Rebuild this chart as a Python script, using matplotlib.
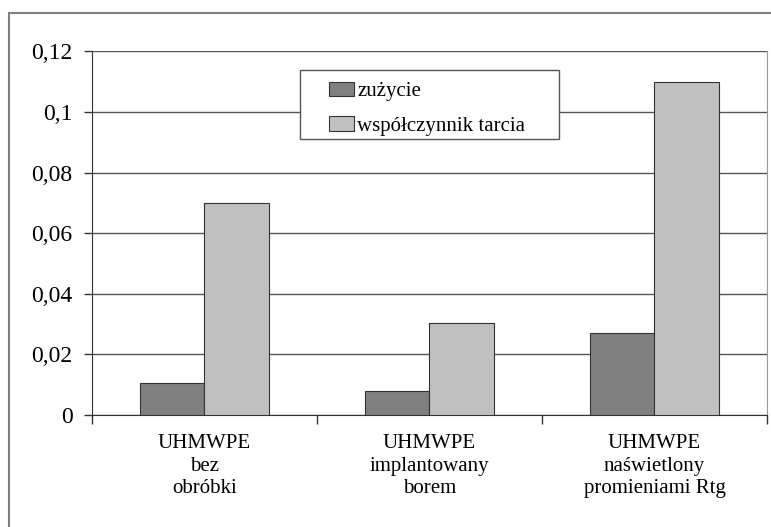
import numpy as np
import matplotlib.pyplot as plt
from matplotlib.patches import Rectangle
from matplotlib.ticker import FuncFormatter

plt.rcParams['font.family'] = ['Liberation Serif', 'DejaVu Serif']

categories = ["UHMWPE\nbez\nobróbki",
              "UHMWPE\nimplantowany\nborem",
              "UHMWPE\nnaświetlony\npromieniami Rtg"]
zuzycie = [0.0105, 0.008, 0.027]
wspolczynnik = [0.070, 0.0305, 0.110]
series_names = ["zużycie", "współczynnik tarcia"]

fig = plt.figure(figsize=(7.71, 5.27), dpi=100)
ax = fig.add_axes([0.1193, 0.2125, 0.8755, 0.6902])

# outer chart frame (runs off the right/bottom edge)
fig.patches.append(Rectangle((9 / 771, -0.05), 1.05, 1 - 13 / 527 + 0.05,
                             transform=fig.transFigure, fill=False,
                             edgecolor='#808080', linewidth=1.5, clip_on=False))

x = np.arange(len(categories)) + 0.5
w = 0.285
ax.bar(x - w / 2, zuzycie, w, color='#808080', edgecolor='#333333',
       linewidth=0.8, label=series_names[0], zorder=3)
ax.bar(x + w / 2, wspolczynnik, w, color='#c0c0c0', edgecolor='#333333',
       linewidth=0.8, label=series_names[1], zorder=3)

ax.set_xlim(0, 3)
ax.set_ylim(0, 0.12)
ax.set_yticks(np.arange(0, 0.121, 0.02))
ax.yaxis.set_major_formatter(FuncFormatter(
    lambda v, p: "0" if v == 0 else f"{v:.2f}".rstrip('0').replace('.', ',')))
ax.tick_params(axis='y', labelsize=17, length=6, width=1, color='#333333', pad=8)

ax.set_xticks([0, 1, 2, 3])
ax.set_xticklabels([])
ax.set_xticks(x, minor=True)
ax.set_xticklabels(categories, minor=True, fontsize=15, linespacing=1.22)
ax.tick_params(axis='x', which='major', length=6.5, width=1, color='#333333')
ax.tick_params(axis='x', which='minor', length=0, pad=14)

ax.grid(axis='y', color='#555555', linewidth=1, zorder=0)
ax.set_axisbelow(True)
ax.spines['top'].set_visible(False)
ax.spines['right'].set_color('#999999')
ax.spines['left'].set_color('#333333')
ax.spines['bottom'].set_color('#333333')

# legend box drawn separately so its padding can be set freely
ax.add_patch(Rectangle((0.308, 0.759), 0.384, 0.19, transform=ax.transAxes,
                       facecolor='white', edgecolor='#555555', linewidth=1,
                       zorder=5, clip_on=False))
leg = ax.legend(loc='upper left', bbox_to_anchor=(0.351, 0.916), fontsize=15,
                frameon=False, handlelength=1.2, handleheight=0.7,
                handletextpad=0.15, borderpad=0, labelspacing=0.7,
                borderaxespad=0)
leg.set_zorder(6)

fig.savefig("out.png", dpi=100)
